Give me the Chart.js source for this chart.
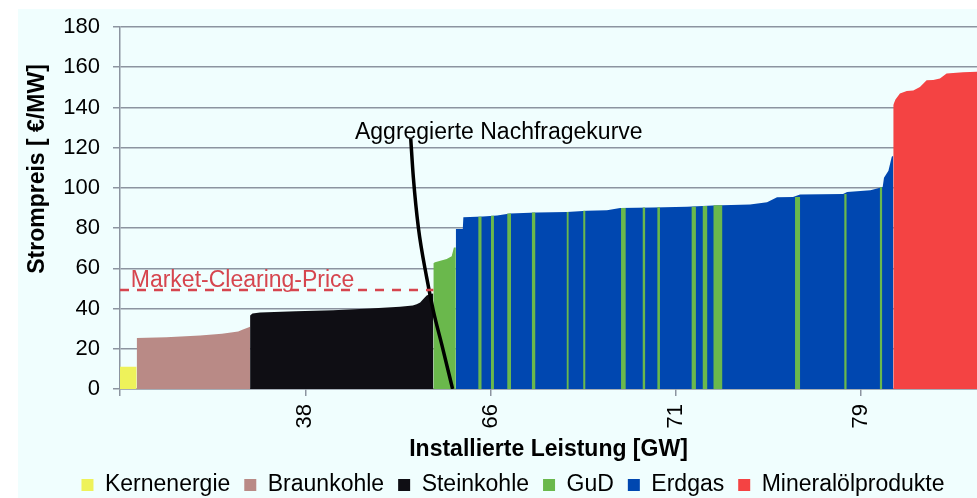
<!DOCTYPE html>
<html>
<head>
<meta charset="utf-8">
<script src="https://cdn.jsdelivr.net/npm/chart.js@4/dist/chart.umd.min.js"></script>
<style>
  html, body { margin: 0; padding: 0; background: #ffffff; }
  #chart { display: block; }
</style>
</head>
<body>
<canvas id="chart" width="977" height="498"></canvas>
<script>
/* ── Merit order data (x in block units, y in €/MW) ───────── */
const xTickValues = [0, 100, 200, 300, 400];
const xTickLabels = ['', '38', '66', '71', '79'];

const kernX  = [0, 9.0];
const kernY  = [11.1, 11.1];
const braunX = [9.0, 25, 43.2, 55, 63.8, 66, 69.2, 70.2];
const braunY = [25.3, 25.7, 26.6, 27.5, 28.6, 29.5, 30.6, 31.0];
const steinX = [70.2, 71.5, 75.6, 95, 115, 135, 151.1, 158, 160.1, 162, 163.7, 165.5, 167.3, 169.1];
const steinY = [36.5, 37.6, 38.0, 38.6, 39.2, 40.0, 40.9, 41.5, 42.2, 43.0, 44.7, 46.5, 47.2, 47.5];

// GuD: main block plus the thin stripes inside the gas range
const gudMainX = [169.1, 170.0, 176.3, 179.0, 180.2, 181.2];
const gudMainY = [62.5, 63.0, 64.6, 66.0, 70.4, 70.4];
const gudFrom  = [193.4, 200.2, 209.0, 222.3, 241.1, 250.0, 270.4, 282.1, 290.0, 308.5, 314.5, 320.3, 364.3, 390.9, 410.1];
const gudTo    = [195.1, 201.8, 211.0, 224.1, 242.1, 251.1, 272.9, 283.4, 291.4, 310.8, 316.9, 325.0, 367.0, 392.1, 411.4];
const gudPrice = [85.6, 86.2, 87.3, 87.8, 88.0, 88.6, 90.0, 90.3, 90.4, 90.6, 91.0, 91.4, 95.5, 96.9, 100.3];

const gasX = [181.2, 185.0, 185.3, 195.9, 203.5, 210.5, 225.0, 241.2, 252.0, 262.8, 269.9, 287.6, 306.0, 320.0, 340.0, 349.2, 354.6, 363.2, 367.0, 390.2, 392.4, 405.0, 411.6, 412.3, 414.7, 416.5, 417.3];
const gasY = [79.6, 79.6, 85.4, 85.8, 86.3, 87.3, 87.8, 88.0, 88.6, 88.9, 90.0, 90.3, 90.6, 91.2, 91.7, 92.9, 95.4, 95.5, 96.7, 96.9, 97.9, 98.8, 100.4, 105.0, 108.5, 115.5, 116.0];

const oilX = [417.3, 418.5, 420.9, 424.6, 428.1, 431.7, 435.3, 438.9, 442.5, 446.1, 455.0, 462.5];
const oilY = [141.2, 144.0, 146.9, 148.2, 148.4, 150.2, 153.5, 153.7, 154.4, 156.9, 157.5, 157.8];

const demandX = [156.9, 158.3, 161.0, 165.5, 169.1, 173.6, 179.5];
const demandY = [124.5, 105.3, 80.4, 55.5, 38.9, 22.3, 0];

const mcpX = [0, 169.1];
const mcpPrice = 49.2;

/* ── helpers ───────────────────────────────────────────── */
const pts = (xs, ys) => xs.map((x, i) => ({ x, y: ys[i] }));

function gudPoints() {
  const out = pts(gudMainX, gudMainY);
  out.push({ x: gudMainX[gudMainX.length - 1], y: 0 });
  gudFrom.forEach((f, i) => {
    out.push({ x: f, y: 0 }, { x: f, y: gudPrice[i] }, { x: gudTo[i], y: gudPrice[i] }, { x: gudTo[i], y: 0 });
  });
  return out;
}

const FONT = "'Liberation Sans', Arial, sans-serif";
const gridColor = '#8c94a0';

const area = (label, data, color) => ({
  label, data,
  backgroundColor: color,
  borderColor: 'transparent',
  borderWidth: 0,
  pointRadius: 0,
  fill: 'origin',
  tension: 0
});

/* ── plugins ───────────────────────────────────────────── */
const background = {
  id: 'background',
  beforeDraw(chart) {
    const { ctx, width, height } = chart;
    ctx.save();
    ctx.fillStyle = '#ffffff';
    ctx.fillRect(0, 0, width, height);
    ctx.fillStyle = '#f0fefe';
    ctx.fillRect(18, 9, width - 18, height - 9);
    ctx.restore();
  }
};

const labels = {
  id: 'labels',
  afterDatasetsDraw(chart) {
    const { ctx, scales: { x, y } } = chart;
    ctx.save();
    ctx.font = `23px ${FONT}`;
    ctx.textBaseline = 'alphabetic';
    ctx.textAlign = 'left';
    ctx.fillStyle = '#000000';
    ctx.fillText('Aggregierte Nachfragekurve', x.getPixelForValue(126.8), y.getPixelForValue(124.1));
    ctx.fillStyle = '#d6454e';
    ctx.fillText('Market-Clearing-Price', x.getPixelForValue(5.8), y.getPixelForValue(50.8));
    // y-axis title
    ctx.translate(37.5, 169);
    ctx.rotate(-Math.PI / 2);
    ctx.font = `bold 23px ${FONT}`;
    ctx.fillStyle = '#000000';
    ctx.textAlign = 'center';
    ctx.textBaseline = 'middle';
    ctx.fillText('Strompreis [ €/MW]', 0, 0);
    ctx.restore();
  }
};

/* ── chart ─────────────────────────────────────────────── */
new Chart(document.getElementById('chart'), {
  type: 'line',
  data: {
    datasets: [
      area('Kernenergie', pts(kernX, kernY), '#eef25a'),
      area('Braunkohle', pts(braunX, braunY), '#b98a86'),
      area('Steinkohle', pts(steinX, steinY), '#0f0e14'),
      area('GuD', gudPoints(), '#6ab84c'),
      area('Erdgas', pts(gasX, gasY), '#0047b0'),
      area('Mineralölprodukte', pts(oilX, oilY), '#f44343'),
      {
        label: '_mcp', data: pts(mcpX, mcpX.map(() => mcpPrice)),
        borderColor: '#d6454e', borderWidth: 2.5, borderDash: [9, 8],
        pointRadius: 0, fill: false, order: -1
      },
      {
        label: '_demand', data: pts(demandX, demandY),
        borderColor: '#000000', borderWidth: 3.5,
        pointRadius: 0, fill: false, cubicInterpolationMode: 'monotone', order: -1
      }
    ]
  },
  options: {
    responsive: false,
    devicePixelRatio: 1,
    animation: false,
    layout: { padding: { left: 49, top: 27, right: 0, bottom: -8.5 } },
    plugins: {
      tooltip: { enabled: false },
      legend: {
        position: 'bottom',
        labels: {
          filter: item => !item.text.startsWith('_'),
          boxWidth: 12, boxHeight: 12, padding: 14,
          color: '#000000',
          font: { family: FONT, size: 23 }
        }
      }
    },
    scales: {
      x: {
        type: 'linear', min: 0, max: 462.5,
        afterBuildTicks: s => { s.ticks = xTickValues.map(v => ({ value: v })); },
        afterFit: s => { s.height = 70.5; },
        ticks: {
          autoSkip: false, minRotation: 90, maxRotation: 90, padding: 8,
          color: '#000000', font: { family: FONT, size: 22 },
          callback: v => xTickLabels[xTickValues.indexOf(v)]
        },
        grid: { drawOnChartArea: false, color: gridColor, lineWidth: 1.5, tickLength: 7 },
        border: { color: gridColor, width: 1.5 },
        title: {
          display: true, text: 'Installierte Leistung [GW]', color: '#000000',
          font: { family: FONT, size: 23, weight: 'bold' },
          padding: { top: 0, bottom: -4.3 }
        }
      },
      y: {
        min: 0, max: 180,
        afterFit: s => { s.width = 71; },
        ticks: { stepSize: 20, padding: 13, color: '#000000', font: { family: FONT, size: 22 } },
        grid: { color: gridColor, lineWidth: 1.5, tickLength: 7 },
        border: { color: gridColor, width: 1.5 }
      }
    }
  },
  plugins: [background, labels]
});
</script>
</body>
</html>
